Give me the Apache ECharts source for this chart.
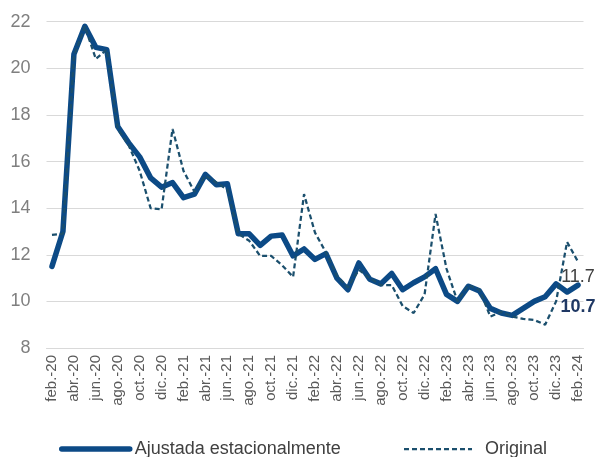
<!DOCTYPE html>
<html>
<head>
<meta charset="utf-8">
<script src="https://cdn.jsdelivr.net/npm/echarts@6/dist/echarts.min.js"></script>
<style>
  html, body { margin: 0; padding: 0; background: #ffffff; }
  #main { width: 596px; height: 457px; }
</style>
</head>
<body>
<div id="main"></div>
<script>
const months = [
  'feb.-20', 'mar.-20', 'abr.-20', 'may.-20', 'jun.-20', 'jul.-20', 'ago.-20', 'sep.-20', 'oct.-20', 'nov.-20', 'dic.-20',
  'ene.-21', 'feb.-21', 'mar.-21', 'abr.-21', 'may.-21', 'jun.-21', 'jul.-21', 'ago.-21', 'sep.-21', 'oct.-21', 'nov.-21', 'dic.-21',
  'ene.-22', 'feb.-22', 'mar.-22', 'abr.-22', 'may.-22', 'jun.-22', 'jul.-22', 'ago.-22', 'sep.-22', 'oct.-22', 'nov.-22', 'dic.-22',
  'ene.-23', 'feb.-23', 'mar.-23', 'abr.-23', 'may.-23', 'jun.-23', 'jul.-23', 'ago.-23', 'sep.-23', 'oct.-23', 'nov.-23', 'dic.-23',
  'ene.-24', 'feb.-24'
];

// desempleo ajustado estacionalmente (linea gruesa)
const ajustada = [
  11.5, 13.0, 20.6, 21.8, 20.9, 20.8, 17.5, 16.8, 16.2, 15.3, 14.9,
  15.1, 14.45, 14.6, 15.45, 15.0, 15.05, 12.9, 12.9, 12.4, 12.8, 12.85, 11.95,
  12.25, 11.8, 12.05, 11.0, 10.5, 11.65, 10.95, 10.75, 11.2, 10.5, 10.8, 11.05,
  11.4, 10.3, 10.0, 10.65, 10.45, 9.7, 9.5, 9.4, 9.7, 10.0, 10.2, 10.75,
  10.4, 10.7
];

// serie original (punteada)
const original = [
  12.85, 12.9, 20.5, 21.8, 20.4, 20.8, 17.4, 16.7, 15.6, 14.0, 13.95,
  17.4, 15.6, 14.7, 15.4, 15.1, 14.8, 12.9, 12.6, 11.95, 11.95, 11.55, 11.05,
  14.6, 12.95, 12.1, 11.1, 10.6, 11.35, 11.0, 10.7, 10.7, 9.8, 9.5, 10.3,
  13.75, 11.4, 10.0, 10.7, 10.5, 9.35, 9.55, 9.35, 9.25, 9.2, 9.0, 10.0,
  12.55, 11.7
];

const yTicks = { min: 8, max: 22, step: 2 };

const font = '"Liberation Sans", Arial, sans-serif';

// solo el ultimo punto lleva etiqueta
const withLastLabel = (arr, label) => arr.map((v, i) =>
  i === arr.length - 1
    ? { value: v, symbol: 'circle', symbolSize: 0, label: Object.assign({ show: true, position: 'bottom', fontFamily: font, fontSize: 18 }, label) }
    : v
);

const myChart = echarts.init(document.getElementById('main'));

const option = {
  animation: false,
  backgroundColor: '#ffffff',
  grid: { left: 46.5, right: 12.5, top: 21.7, bottom: 109 },
  legend: {
    top: 435,
    left: 54,
    itemWidth: 68,
    itemHeight: 14,
    itemGap: 62,
    textStyle: { fontFamily: font, fontSize: 18, color: '#404040' },
    lineStyle: { width: 'inherit' },
    itemStyle: { opacity: 0 },
    data: [
      'Ajustada estacionalmente',
      { name: 'Original', textStyle: { padding: [0, 0, 0, 8] } }
    ]
  },
  xAxis: {
    type: 'category',
    data: months,
    boundaryGap: true,
    axisLine: { lineStyle: { color: '#d9d9d9', width: 1 } },
    axisTick: { interval: 1, length: 5, lineStyle: { color: '#d9d9d9' } },
    axisLabel: { interval: 1, rotate: 90, margin: 7, fontFamily: font, fontSize: 15, color: '#595959' },
    splitLine: { show: false }
  },
  yAxis: {
    type: 'value',
    min: yTicks.min,
    max: yTicks.max,
    interval: yTicks.step,
    axisLine: { show: false },
    axisTick: { show: false },
    axisLabel: { margin: 16, fontFamily: font, fontSize: 18, color: '#7f7f7f' },
    splitLine: { lineStyle: { color: '#d9d9d9', width: 1 } }
  },
  series: [
    {
      name: 'Ajustada estacionalmente',
      type: 'line',
      symbol: 'none',
      showAllSymbol: true,
      z: 2,
      lineStyle: { width: 5.5, color: '#0c4a86', join: 'round', cap: 'round' },
      itemStyle: { color: '#0c4a86' },
      data: withLastLabel(ajustada, { distance: 13, fontWeight: 'bold', color: '#1f3864' })
    },
    {
      name: 'Original',
      type: 'line',
      symbol: 'none',
      showAllSymbol: true,
      z: 3,
      lineStyle: { width: 2.25, color: '#1b4f6d', type: [5, 3] },
      itemStyle: { color: '#1b4f6d' },
      data: withLastLabel(original, { distance: 6, color: '#404040' })
    }
  ]
};

option && myChart.setOption(option);
</script>
</body>
</html>
